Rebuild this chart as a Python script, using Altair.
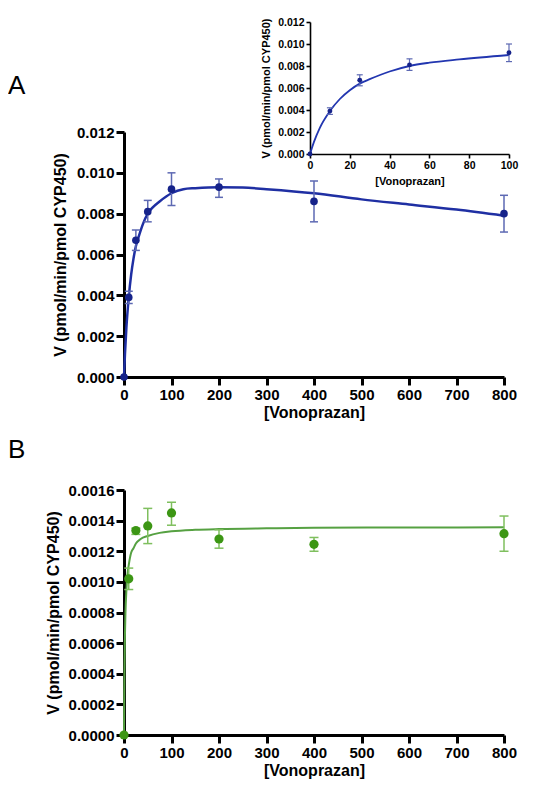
import altair as alt
import pandas as pd

# ---------------- data ----------------
conc = [0, 10, 25, 50, 100, 200, 400, 800]

# Panel A (CYP, navy)
a_mean = [0.0, 0.0039, 0.0067, 0.0081, 0.0092, 0.0093, 0.0086, 0.0080]
a_lo = [0.0036, 0.0062, 0.0076, 0.0084, 0.0088, 0.0076, 0.0071]
a_hi = [0.0042, 0.0072, 0.00865, 0.0100, 0.0097, 0.0096, 0.0089]

# fitted curve of panel A
a_curve_x = [0, 2, 5, 10, 15, 20, 25, 30, 40, 50, 60, 75, 100, 125, 150, 200,
             250, 300, 400, 500, 600, 700, 800]
a_curve_y = [0.0, 0.0011, 0.0024, 0.0039, 0.0050, 0.0058, 0.0064, 0.0068,
             0.0075, 0.0080, 0.0083, 0.0086, 0.0090, 0.0092, 0.00925, 0.0093,
             0.00928, 0.0092, 0.0090, 0.0087, 0.00845, 0.0082, 0.0079]

# Panel B (green)
b_mean = [0.0, 0.00102, 0.001335, 0.001365, 0.00145, 0.00128, 0.001245, 0.001315]
b_lo = [0.00095, 0.00131, 0.00125, 0.00137, 0.00122, 0.00120, 0.00120]
b_hi = [0.00109, 0.00135, 0.00148, 0.00152, 0.00134, 0.00129, 0.00143]

b_curve_x = [0, 0.5, 1, 2, 3, 5, 7, 10, 15, 20, 25, 35, 50, 75, 100, 150, 200,
             300, 400, 600, 800]
b_curve_y = [0.0, 0.00025, 0.00043, 0.00065, 0.00079, 0.00094, 0.00104,
             0.00111, 0.00119, 0.00122, 0.00125, 0.00128, 0.00130, 0.00132,
             0.00133, 0.00134, 0.001345, 0.00135, 0.001353, 0.001355, 0.001356]

x_ticks = [0, 100, 200, 300, 400, 500, 600, 700, 800]
a_ticks = [0, 0.002, 0.004, 0.006, 0.008, 0.010, 0.012]
b_ticks = [0, 0.0002, 0.0004, 0.0006, 0.0008, 0.0010, 0.0012, 0.0014, 0.0016]
inset_x_ticks = [0, 20, 40, 60, 80, 100]
inset_max = 100

# ---------------- styles ----------------
FONT = "Liberation Sans"
NAVY_PT = "#16238a"
NAVY_LN = "#1f2fa3"
NAVY_ER = "#5d69b3"
GREEN_PT = "#3c9614"
GREEN_LN = "#56a142"
GREEN_ER = "#7fbf5e"

W, H = 380, 245

dfA = pd.DataFrame({"x": conc, "v": a_mean})
dfAe = pd.DataFrame({"x": conc[1:], "lo": a_lo, "hi": a_hi})
dfAc = pd.DataFrame({"x": a_curve_x, "v": a_curve_y})

dfB = pd.DataFrame({"x": conc, "v": b_mean})
dfBe = pd.DataFrame({"x": conc[1:], "lo": b_lo, "hi": b_hi})
dfBc = pd.DataFrame({"x": b_curve_x, "v": b_curve_y})

dfI = dfA[dfA["x"] <= inset_max]
dfIe = dfAe[dfAe["x"] <= inset_max]
dfIc = dfAc[dfAc["x"] <= inset_max]


def big_axis(title, values, fmt, pad, orient):
    return alt.Axis(
        values=values, format=fmt, title=title, orient=orient,
        domainWidth=3, tickWidth=3, tickSize=8,
        domainColor="black", tickColor="black", labelColor="black",
        titleColor="black", labelFont=FONT, titleFont=FONT,
        labelFontSize=15, labelFontWeight="bold",
        titleFontSize=16, titleFontWeight="bold",
        labelPadding=2, titlePadding=pad, labelFlush=False,
        labelOverlap=False, grid=False,
    )


def small_axis(title, values, fmt, pad, orient, offset):
    return alt.Axis(
        values=values, format=fmt, title=title, orient=orient, offset=offset,
        domainWidth=1.6, tickWidth=1.6, tickSize=4,
        domainColor="black", tickColor="black", labelColor="black",
        titleColor="black", labelFont=FONT, titleFont=FONT,
        labelFontSize=10.5, labelFontWeight="bold",
        titleFontSize=11, titleFontWeight="bold",
        labelPadding=2, titlePadding=pad, labelFlush=False,
        labelOverlap=False, grid=False,
    )


def panel(df, dfe, dfc, sx, sy, ax, ay, pt_color, ln_color, er_color,
          pt_size, ln_w, cap, er_w):
    X = lambda f: alt.X(f, scale=sx, axis=ax)
    Y = lambda f: alt.Y(f, scale=sy, axis=ay)
    curve = alt.Chart(dfc).mark_line(
        color=ln_color, strokeWidth=ln_w, interpolate="monotone"
    ).encode(x=X("x:Q"), y=Y("v:Q"))
    rule = alt.Chart(dfe).mark_rule(color=er_color, strokeWidth=er_w).encode(
        x=X("x:Q"), y=Y("lo:Q"), y2="hi:Q"
    )
    cap_lo = alt.Chart(dfe).mark_tick(
        orient="horizontal", color=er_color, size=cap, thickness=er_w, opacity=1
    ).encode(x=X("x:Q"), y=Y("lo:Q"))
    cap_hi = alt.Chart(dfe).mark_tick(
        orient="horizontal", color=er_color, size=cap, thickness=er_w, opacity=1
    ).encode(x=X("x:Q"), y=Y("hi:Q"))
    pts = alt.Chart(df).mark_circle(color=pt_color, size=pt_size, opacity=1).encode(
        x=X("x:Q"), y=Y("v:Q")
    )
    return alt.layer(curve, rule, cap_lo, cap_hi, pts)


# ---------------- panel A ----------------
sxA = alt.Scale(domain=[0, 800], nice=False)
syA = alt.Scale(domain=[0, 0.012], nice=False)
mainA = panel(
    dfA, dfAe, dfAc, sxA, syA,
    big_axis("[Vonoprazan]", x_ticks, "d", 2, "bottom"),
    big_axis("V (pmol/min/pmol CYP450)", a_ticks, ".3f", 8, "left"),
    NAVY_PT, NAVY_LN, NAVY_ER, 58, 2.5, 8, 1.5,
)

# inset (placed inside panel A through its own scale ranges)
sxI = alt.Scale(domain=[0, 100], range=[186, 385], nice=False)
syI = alt.Scale(domain=[0, 0.012], range=[22, -110], nice=False)
insetA = panel(
    dfI, dfIe, dfIc, sxI, syI,
    small_axis("[Vonoprazan]", inset_x_ticks, "d", 5, "bottom", 22 - H),
    small_axis("V (pmol/min/pmol CYP450)", a_ticks, ".3f", 6, "left", -186),
    NAVY_PT, "#2236b0", NAVY_ER, 24, 1.8, 6, 1.2,
)

chartA = alt.layer(mainA, insetA).resolve_scale(
    x="independent", y="independent"
).resolve_axis(x="independent", y="independent").properties(
    width=W, height=H,
    title=alt.TitleParams(
        "A", anchor="start", frame="group", dx=-116, dy=86,
        fontSize=26, fontWeight="normal", font=FONT, color="black",
    ),
)

# ---------------- panel B ----------------
sxB = alt.Scale(domain=[0, 800], nice=False)
syB = alt.Scale(domain=[0, 0.0016], nice=False)
chartB = panel(
    dfB, dfBe, dfBc, sxB, syB,
    big_axis("[Vonoprazan]", x_ticks, "d", 2, "bottom"),
    big_axis("V (pmol/min/pmol CYP450)", b_ticks, ".4f", 7, "left"),
    GREEN_PT, GREEN_LN, GREEN_ER, 85, 2.0, 9, 1.5,
).properties(
    width=W, height=H,
    title=alt.TitleParams(
        "B", anchor="start", frame="group", dx=-116, dy=-16,
        fontSize=26, fontWeight="normal", font=FONT, color="black",
    ),
)

chart = alt.vconcat(chartA, chartB, spacing=113, bounds="flush").properties(
    padding={"left": 0, "top": 9, "right": 5, "bottom": 5},
    background="white",
).configure_view(stroke=None).configure_axis(grid=False)

chart.save("out.html", embed_options={"renderer": "svg", "actions": False})
